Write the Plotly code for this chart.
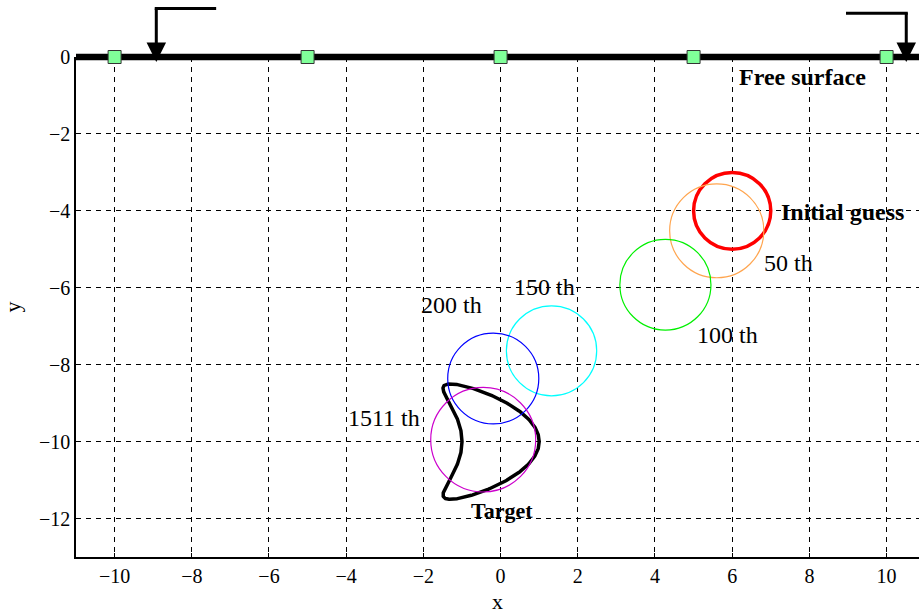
import numpy as np
import plotly.graph_objects as go

# ---- reconstruction iterates: circle centres / radii ----
iter_labels = ["Initial guess", "50 th", "100 th", "150 th", "200 th", "1511 th"]
circle_cx = [6.0, 5.60, 4.27, 1.32, -0.19, -0.45]
circle_cy = [-4.0, -4.52, -5.92, -7.64, -8.36, -9.95]
circle_r = [1.0, 1.22, 1.18, 1.17, 1.18, 1.36]
circle_colors = ["#FF0000", "#FFA54F", "#00F000", "#00FFFF", "#0000FF", "#CC00CC"]
circle_widths = [3.5, 1.2, 1.2, 1.2, 1.2, 1.2]

# label anchor positions (data units)
label_x = [8.86, 7.47, 5.88, 1.14, -1.28, -3.02]
label_y = [-4.03, -5.35, -7.22, -5.97, -6.44, -9.38]

# ---- kite-shaped target ----
target_center = (0.0, -10.0)
kite_a, kite_b, kite_h = 1.0, 0.65, 1.5

# ---- receivers on the free surface ----
receiver_x = [-10, -5, 0, 5, 10]
receiver_y = [0, 0, 0, 0, 0]

# ---- incident-wave arrows ----
arrow_x = [-8.92, 10.51]
arrow_tail_x = [-7.33, 8.91]
arrow_top = [1.26, 1.14]
arrow_tip = -0.13

X_RANGE = [-11, 10.84]
Y_RANGE = [-13, 0]
x_ticks = list(range(-10, 11, 2))
y_ticks = list(range(-12, 1, 2))


def fmt(v):
    return str(v).replace("-", "\u2212")


def y_frac(v):
    return (v - Y_RANGE[0]) / (Y_RANGE[1] - Y_RANGE[0])


FONT = "Liberation Serif, Times New Roman, serif"

fig = go.Figure()

# target boundary
t = np.linspace(0, 2 * np.pi, 600)
kx = target_center[0] + kite_a * np.cos(t) + kite_b * np.cos(2 * t) - kite_b
ky = target_center[1] + kite_h * np.sin(t)
fig.add_trace(go.Scatter(x=kx, y=ky, mode="lines",
                         line=dict(color="black", width=3.5),
                         showlegend=False, hoverinfo="skip"))

# receivers
fig.add_trace(go.Scatter(x=receiver_x, y=receiver_y, mode="markers",
                         marker=dict(symbol="square", size=13, color="#80FF99",
                                     line=dict(color="#333333", width=1)),
                         cliponaxis=False, showlegend=False, hoverinfo="skip"))

shapes = []
# free surface (top boundary)
shapes.append(dict(type="line", xref="paper", yref="paper", x0=0, x1=1,
                   y0=1, y1=1, line=dict(color="black", width=6.5), layer="below"))
for cx, cy, r, c, w in zip(circle_cx, circle_cy, circle_r, circle_colors, circle_widths):
    shapes.append(dict(type="circle", xref="x", yref="y",
                       x0=cx - r, x1=cx + r, y0=cy - r, y1=cy + r,
                       line=dict(color=c, width=w)))

annotations = []
for i, (lab, lx, ly) in enumerate(zip(iter_labels, label_x, label_y)):
    txt = f"<b>{lab}</b>" if i == 0 else lab
    annotations.append(dict(x=lx, y=ly, xref="x", yref="y", text=txt,
                            showarrow=False, font=dict(size=24, color="black", family=FONT)))
annotations.append(dict(x=7.82, y=-0.52, xref="x", yref="y", text="<b>Free surface</b>",
                        showarrow=False, font=dict(size=24, color="black", family=FONT)))
annotations.append(dict(x=0.04, y=-11.79, xref="x", yref="y", text="<b>Target</b>",
                        showarrow=False, font=dict(size=22, color="black", family=FONT)))

# incident-wave arrows: horizontal stroke + downward arrow
for ax_, tx, top in zip(arrow_x, arrow_tail_x, arrow_top):
    annotations.append(dict(x=ax_ - (0.04 if tx > ax_ else -0.04), y=y_frac(top),
                            xref="x", yref="y domain",
                            ax=tx, ay=y_frac(top), axref="x", ayref="y domain",
                            text="", showarrow=True, arrowhead=0,
                            arrowwidth=3, arrowcolor="black"))
    annotations.append(dict(x=ax_, y=y_frac(arrow_tip), xref="x", yref="y domain",
                            ax=ax_, ay=y_frac(top + 0.04), axref="x", ayref="y domain",
                            text="", showarrow=True, arrowhead=2, arrowsize=1.3,
                            arrowwidth=3, arrowcolor="black"))

axis_common = dict(showgrid=True, gridcolor="black", gridwidth=1, griddash="5px,5px",
                   zeroline=False, showline=True, linecolor="black", linewidth=1.5,
                   ticks="inside", ticklen=4, tickcolor="black",
                   tickfont=dict(size=20, color="black", family=FONT))

fig.update_layout(
    width=919, height=615,
    margin=dict(l=76, r=0, t=57, b=58),
    paper_bgcolor="white", plot_bgcolor="white",
    font=dict(family=FONT, color="black"),
    shapes=shapes, annotations=annotations,
    xaxis=dict(range=X_RANGE, tickvals=x_ticks, ticktext=[fmt(v) for v in x_ticks],
               title=dict(text="x", font=dict(size=22, family=FONT), standoff=8),
               **axis_common),
    yaxis=dict(range=Y_RANGE, tickvals=y_ticks, ticktext=[fmt(v) for v in y_ticks],
               title=dict(text="y", font=dict(size=22, family=FONT), standoff=14),
               **axis_common),
)

fig.write_html("out.html")
